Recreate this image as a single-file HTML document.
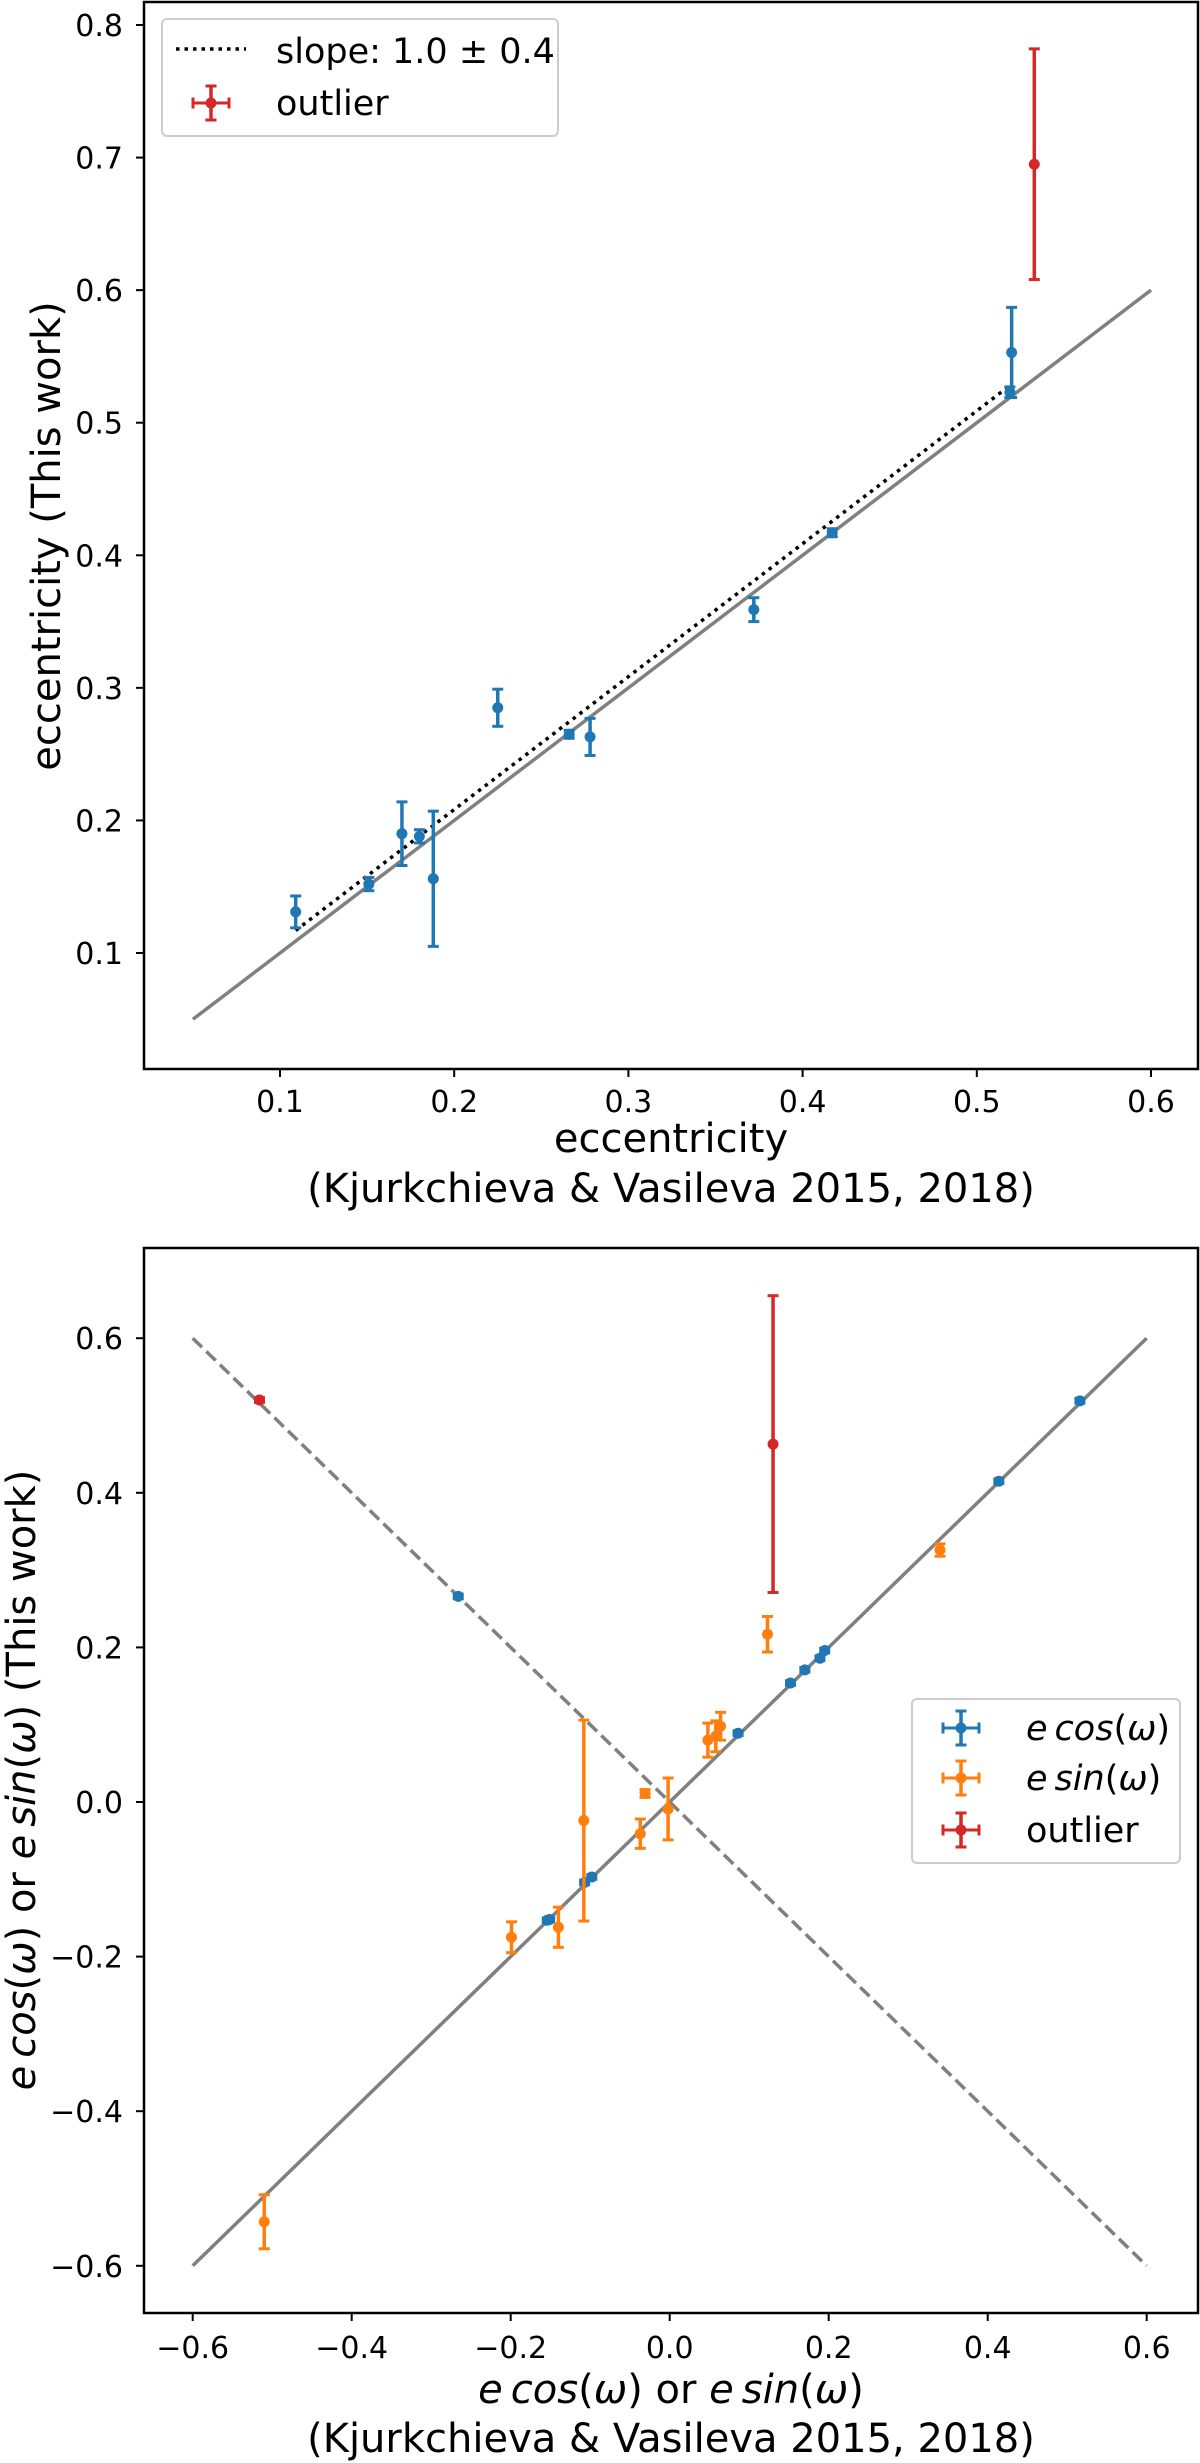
<!DOCTYPE html>
<html><head><meta charset="utf-8"><style>
html,body{margin:0;padding:0;background:#fff;}
svg{display:block;font-family:"DejaVu Sans","Liberation Sans",sans-serif;}
</style></head><body>
<svg id="chart" width="1200" height="2463" viewBox="0 0 1200 2463" xmlns="http://www.w3.org/2000/svg">
<g id="top"></g>
<g id="bot"></g>
</svg>
<script>
// ---- Top panel data ----
const topX = [0.109,0.151,0.170,0.180,0.188,0.225,0.266,0.278,0.372,0.417,0.520,0.519];
const topY = [0.131,0.152,0.190,0.188,0.156,0.285,0.265,0.263,0.359,0.417,0.553,0.523];
const topYErr = [0.012,0.005,0.024,0.005,0.051,0.014,0.003,0.014,0.009,0.003,0.034,0.004];
const topOutX = [0.533];
const topOutY = [0.695];
const topOutErr = [0.087];
const topFitX = [0.109,0.518];
const topFitY = [0.117,0.527];
const topTicksX = [0.1,0.2,0.3,0.4,0.5,0.6];
const topTicksY = [0.1,0.2,0.3,0.4,0.5,0.6,0.7,0.8];
// ---- Bottom panel data ----
const cosX = [-0.266,-0.154,-0.151,-0.107,-0.098,0.086,0.152,0.170,0.189,0.195,0.414,0.516];
const cosY = [0.266,-0.153,-0.152,-0.104,-0.097,0.089,0.154,0.171,0.186,0.196,0.415,0.519];
const sinX = [-0.510,-0.199,-0.140,-0.108,-0.037,-0.031,-0.002,0.048,0.058,0.064,0.123,0.340];
const sinY = [-0.543,-0.175,-0.162,-0.024,-0.041,0.011,-0.009,0.080,0.085,0.098,0.217,0.326];
const sinErr = [0.035,0.020,0.026,0.130,0.019,0.005,0.040,0.022,0.020,0.018,0.023,0.008];
const outX = [-0.516,0.130];
const outY = [0.520,0.463];
const outErr = [0.003,0.192];
const botTicks = [-0.6,-0.4,-0.2,0.0,0.2,0.4,0.6];

const NS="http://www.w3.org/2000/svg";
function mk(parent,tag,attrs,text){const e=document.createElementNS(NS,tag);for(const k in attrs)e.setAttribute(k,attrs[k]);if(text!==undefined)e.textContent=text;parent.appendChild(e);return e;}

const BLUE="#1f77b4",ORANGE="#ff7f0e",RED="#d62728",GRAY="#808080";
const TF=30, AF=40, LF=35;

const xT=v=>280+(v-0.1)*1742, yT=v=>953-(v-0.1)*1325.7;
const xB=v=>669.7+v*795, yB=v=>1802-v*773;

function errPoint(g,x,y,y1,y2,col,name){
  const p=mk(g,'g',{});
  
  
  mk(p,'line',{x1:x,y1:y1,x2:x,y2:y2,stroke:col,'stroke-width':3.5});
  mk(p,'line',{x1:x-5.5,y1:y1,x2:x+5.5,y2:y1,stroke:col,'stroke-width':3});
  mk(p,'line',{x1:x-5.5,y1:y2,x2:x+5.5,y2:y2,stroke:col,'stroke-width':3});
  mk(p,'line',{x1:x-4.5,y1:y,x2:x+4.5,y2:y,stroke:col,'stroke-width':3});
  mk(p,'circle',{cx:x,cy:y,r:5.5,fill:col});
}
function legMarker(g,x,y,col){
  errPoint(g,x,y,y-17,y+17,col,'legend-marker');
  mk(g,'line',{x1:x-18,y1:y,x2:x+18,y2:y,stroke:col,'stroke-width':3});
  mk(g,'line',{x1:x-18,y1:y-5.5,x2:x-18,y2:y+5.5,stroke:col,'stroke-width':3});
  mk(g,'line',{x1:x+18,y1:y-5.5,x2:x+18,y2:y+5.5,stroke:col,'stroke-width':3});
}

// ---------- TOP ----------
const gt=document.getElementById('top');
const tL=144,tR=1198,tTop=2,tBot=1069;
let ln=mk(gt,'line',{x1:xT(0.05),y1:yT(0.05),x2:xT(0.6),y2:yT(0.6),stroke:GRAY,'stroke-width':3.5});


let fit=mk(gt,'line',{x1:xT(topFitX[0]),y1:yT(topFitY[0]),x2:xT(topFitX[1]),y2:yT(topFitY[1]),stroke:'#000','stroke-width':3.5,'stroke-dasharray':'3.5,5'});


for(let i=0;i<topX.length;i++){
  errPoint(gt,xT(topX[i]),yT(topY[i]),yT(topY[i]+topYErr[i]),yT(topY[i]-topYErr[i]),BLUE,'eccentricity-point');
}
for(let i=0;i<topOutX.length;i++){
  errPoint(gt,xT(topOutX[i]),yT(topOutY[i]),yT(topOutY[i]+topOutErr[i]),yT(topOutY[i]-topOutErr[i]),RED,'outlier-point');
}
let fr=mk(gt,'rect',{x:tL,y:tTop,width:tR-tL,height:tBot-tTop,fill:'none',stroke:'#000','stroke-width':2.5});


topTicksX.forEach(v=>{
  const x=xT(v);
  mk(gt,'line',{x1:x,y1:tBot,x2:x,y2:tBot+8,stroke:'#000','stroke-width':2});
  const t=mk(gt,'text',{x:x,y:1112,'font-size':TF,'text-anchor':'middle'},v.toFixed(1));
  
  
});
topTicksY.forEach(v=>{
  const y=yT(v);
  mk(gt,'line',{x1:tL-8,y1:y,x2:tL,y2:y,stroke:'#000','stroke-width':2});
  const t=mk(gt,'text',{x:123,y:y+11,'font-size':TF,'text-anchor':'end'},v.toFixed(1));
  
  
});
let xl=mk(gt,'text',{x:671,y:1152,'font-size':AF,'text-anchor':'middle'},'eccentricity');


let xl2=mk(gt,'text',{x:671,y:1202,'font-size':AF,'text-anchor':'middle'},'(Kjurkchieva & Vasileva 2015, 2018)');


let yl=mk(gt,'text',{x:0,y:0,'font-size':AF,'text-anchor':'middle',transform:'translate(60,536) rotate(-90)'},'eccentricity (This work)');


// legend
const lg=mk(gt,'g',{});


mk(lg,'rect',{x:162,y:19,width:396,height:117,rx:5,fill:'#fff',stroke:'#ccc','stroke-width':2});
mk(lg,'line',{x1:176,y1:49,x2:246,y2:49,stroke:'#000','stroke-width':3.5,'stroke-dasharray':'3.5,5'});
mk(lg,'text',{x:276,y:63,'font-size':LF},'slope: 1.0 ± 0.4');
legMarker(lg,211,103,RED);
mk(lg,'text',{x:276,y:115,'font-size':LF},'outlier');

// ---------- BOTTOM ----------
const gb=document.getElementById('bot');
const bL=144,bR=1198,bTop=1248,bBot=2313;
let l1=mk(gb,'line',{x1:xB(-0.6),y1:yB(-0.6),x2:xB(0.6),y2:yB(0.6),stroke:GRAY,'stroke-width':3.5});


let l2=mk(gb,'line',{x1:xB(-0.6),y1:yB(0.6),x2:xB(0.6),y2:yB(-0.6),stroke:GRAY,'stroke-width':3.5,'stroke-dasharray':'13,6'});


for(let i=0;i<cosX.length;i++){
  errPoint(gb,xB(cosX[i]),yB(cosY[i]),yB(cosY[i]+0.003),yB(cosY[i]-0.003),BLUE,'ecos-point');
}
for(let i=0;i<sinX.length;i++){
  errPoint(gb,xB(sinX[i]),yB(sinY[i]),yB(sinY[i]+sinErr[i]),yB(sinY[i]-sinErr[i]),ORANGE,'esin-point');
}
for(let i=0;i<outX.length;i++){
  errPoint(gb,xB(outX[i]),yB(outY[i]),yB(outY[i]+outErr[i]),yB(outY[i]-outErr[i]),RED,'outlier-point');
}
let fb=mk(gb,'rect',{x:bL,y:bTop,width:bR-bL,height:bBot-bTop,fill:'none',stroke:'#000','stroke-width':2.5});


const fmt=v=>(v<0?'\u2212':'')+Math.abs(v).toFixed(1);
botTicks.forEach(v=>{
  const x=xB(v);
  mk(gb,'line',{x1:x,y1:bBot,x2:x,y2:bBot+8,stroke:'#000','stroke-width':2});
  const t=mk(gb,'text',{x:x,y:2358,'font-size':TF,'text-anchor':'middle'},fmt(v));
  
  
  const y=yB(v);
  mk(gb,'line',{x1:bL-8,y1:y,x2:bL,y2:y,stroke:'#000','stroke-width':2});
  const t2=mk(gb,'text',{x:123,y:y+11,'font-size':TF,'text-anchor':'end'},fmt(v));
  
  
});
function mathLabel(parent,attrs,name){
  const t=mk(parent,'text',attrs);
  
  
  const parts=[['e',1],['\u2009',0],['cos',1],['(',0],['ω',1],[')',0],[' or ',0],['e',1],['\u2009',0],['sin',1],['(',0],['ω',1],[')',0]];
  parts.forEach(p=>{mk(t,'tspan',p[1]?{'font-style':'italic'}:{},p[0]);});
  return t;
}
mathLabel(gb,{x:671,y:2403,'font-size':AF,'text-anchor':'middle'},'x-axis-title');
let bx2=mk(gb,'text',{x:671,y:2452,'font-size':AF,'text-anchor':'middle'},'(Kjurkchieva & Vasileva 2015, 2018)');


const yt=mathLabel(gb,{x:0,y:0,'font-size':AF,'text-anchor':'middle',transform:'translate(35,1780) rotate(-90)'},'y-axis-title');
mk(yt,'tspan',{},' (This work)');
// legend
const lb=mk(gb,'g',{});


mk(lb,'rect',{x:912,y:1699,width:268,height:164,rx:5,fill:'#fff',stroke:'#ccc','stroke-width':2});
const legC=[BLUE,ORANGE,RED], legY=[1728,1778,1830];
legC.forEach((c,i)=>{ legMarker(lb,961,legY[i],c); });
function legMath(y,fn){
  const t=mk(lb,'text',{x:1026,y:y+12,'font-size':LF});
  
  
  [['e',1],['\u2009',0],[fn,1],['(',0],['ω',1],[')',0]].forEach(p=>{mk(t,'tspan',p[1]?{'font-style':'italic'}:{},p[0]);});
}
legMath(legY[0],'cos');
legMath(legY[1],'sin');
let lo=mk(lb,'text',{x:1026,y:legY[2]+12,'font-size':LF},'outlier');


</script>
</body></html>
